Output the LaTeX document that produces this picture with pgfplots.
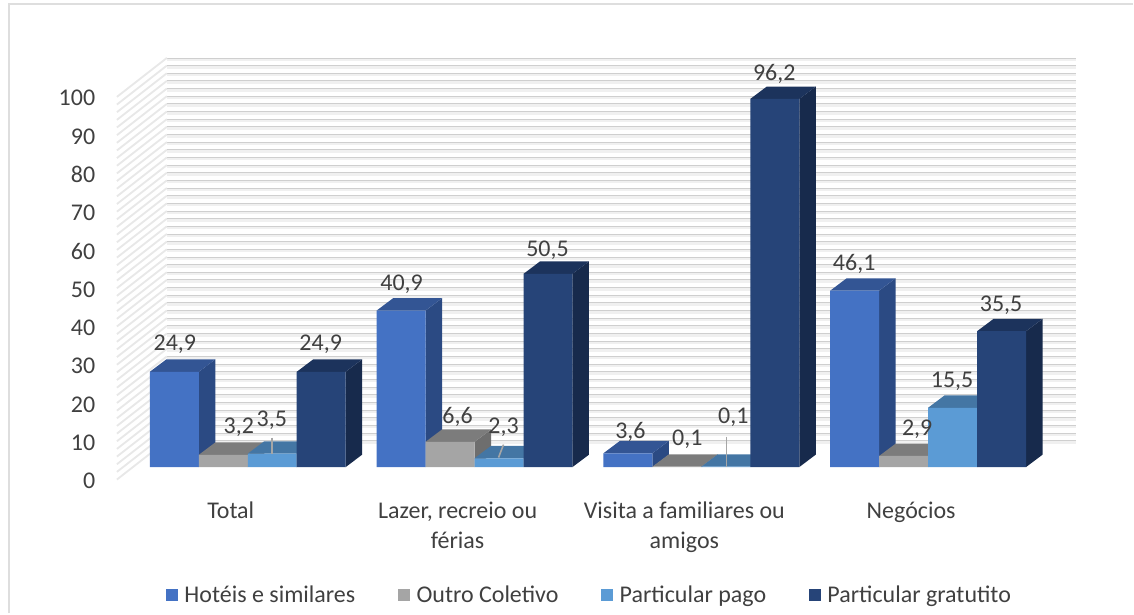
\documentclass[border=0pt]{standalone}
\usepackage{fontspec}
\setmainfont{Carlito}
\usepackage{pgfplots}
\usepackage{pgfplotstable}
\pgfplotsset{compat=1.18}

\definecolor{hot}{HTML}{4472C4}\definecolor{hott}{HTML}{335594}\definecolor{hots}{HTML}{2B4A83}
\definecolor{out}{HTML}{A5A5A5}\definecolor{outt}{HTML}{7C7C7C}\definecolor{outs}{HTML}{6E6E6E}
\definecolor{pag}{HTML}{5B9BD5}\definecolor{pagt}{HTML}{4476A4}\definecolor{pags}{HTML}{3D6A92}
\definecolor{gra}{HTML}{264478}\definecolor{grat}{HTML}{1C335C}\definecolor{gras}{HTML}{172A4C}
\definecolor{txt}{HTML}{404040}

\pgfplotstableread{
x hoteis outro pago gratuito
0 24.9 3.2 3.5 24.9
1 40.9 6.6 2.3 50.5
2 3.6 0.1 0.1 96.2
3 46.1 2.9 15.5 35.5
}\dados

% 1 px = 0.75 pt; eixo x: 227 px por categoria, eixo y: 3.83 px por unidade
\newcommand\caras[4]{%
  \pgfplotsforeachungrouped \r in {0,1,2,3}{%
    \pgfplotstablegetelem{\r}{#2}\of\dados
    \pgfmathsetmacro\va{\pgfplotsretval}
    \pgfmathsetmacro\vb{\va+3.24}
    \pgfmathsetmacro\xa{\r+#1}
    \pgfmathsetmacro\xb{\xa+0.2159}
    \pgfmathsetmacro\xc{\xa+0.0727}
    \pgfmathsetmacro\xd{\xb+0.0727}
    \addplot[fill=#4,draw=none,forget plot] coordinates {(\xb,0)(\xd,3.24)(\xd,\vb)(\xb,\va)} --cycle;
    \addplot[fill=#3,draw=none,forget plot] coordinates {(\xa,\va)(\xb,\va)(\xd,\vb)(\xc,\vb)} --cycle;
  }%
}
\newcommand\rot[3]{\node[lab] at (axis cs:{(#1-248)/227},{(467.5-#2)/3.83}) {#3};}
\newcommand\guia[4]{\addplot[color=black!35,line width=1.2pt,forget plot] coordinates {({(#1-248)/227},{(467.5-#2)/3.83})({(#3-248)/227},{(467.5-#4)/3.83})};}
\pgfplotsset{quad/.style={legend image code/.code={\fill[##1] (0pt,-4.5pt) rectangle (9pt,4.5pt);}}}

\begin{document}
\begin{tikzpicture}
\begin{axis}[
  scale only axis,
  width=850.5pt, height=460.5pt,
  xmin=-1.09251, xmax=3.9031,
  ymin=-38.25, ymax=122.06,
  clip=false,
  axis line style={draw=none},
  major tick length=0pt,
  tick style={draw=none},
  xtick={0,1,2,3},
  xticklabels={Total,{Lazer, recreio ou\\férias},{Visita a familiares ou\\amigos},Negócios},
  xticklabel style={align=center,anchor=north,xshift=-12.75pt,yshift=87pt,font=\fontsize{18}{22}\selectfont,text=txt},
  ytick={0,10,...,100},
  yticklabel style={anchor=east,xshift=75pt,yshift=-10.4pt,font=\fontsize{18}{18}\selectfont,text=txt},
  /pgf/number format/assume math mode=true,
  legend columns=4,
  legend cell align=left,
  legend style={draw=none,fill=none,at={(0.5205,0.0295)},anchor=center,
    font=\fontsize{18}{18}\selectfont,text=txt,
    /tikz/every even column/.append style={column sep=30pt},
    /tikz/every odd column/.append style={column sep=3pt}},
]
% moldura
\addplot[color=black!13,line width=1.6pt,forget plot] coordinates {(-1.0529,-38.25)(-1.0529,121)(3.9031,121)};
% paredes: grelha de 2 em 2
\pgfplotsinvokeforeach{0,2,...,100}{
  \addplot[color=black!6,line width=2.2pt,forget plot] coordinates {(-0.3568,#1+6.5)(3.652,#1+6.5)};
  \addplot[color=black!19,line width=0.6pt,forget plot] coordinates {(-0.3568,#1+6.92)(3.652,#1+6.92)};
  \addplot[color=black!9,line width=1.4pt,forget plot] coordinates {(-0.577,#1-3.26)(-0.3568,#1+6.92)};
}
\caras{-0.43176}{hoteis}{hott}{hots}
\addplot[ybar,bar width=36.75pt,bar shift=-55.125pt,fill=hot,draw=none,quad] table[x=x,y=hoteis] {\dados};
\addlegendentry{Hotéis e similares}
\caras{-0.21588}{outro}{outt}{outs}
\addplot[ybar,bar width=36.75pt,bar shift=-18.375pt,fill=out,draw=none,quad] table[x=x,y=outro] {\dados};
\addlegendentry{Outro Coletivo}
\caras{0}{pago}{pagt}{pags}
\addplot[ybar,bar width=36.75pt,bar shift=18.375pt,fill=pag,draw=none,quad] table[x=x,y=pago] {\dados};
\addlegendentry{Particular pago}
\caras{0.21588}{gratuito}{grat}{gras}
\addplot[ybar,bar width=36.75pt,bar shift=55.125pt,fill=gra,draw=none,quad] table[x=x,y=gratuito] {\dados};
\addlegendentry{Particular gratutito}
% linhas de chamada
\guia{272}{438}{272}{454}
\guia{504}{445}{499}{458}
\guia{727}{437}{727}{467}
% rotulos
\tikzset{lab/.style={font=\fontsize{18}{18}\selectfont,text=txt,inner sep=0pt}}
\rot{175}{345}{24,9}\rot{239}{428}{3,2}\rot{272}{421}{3,5}\rot{321}{345}{24,9}
\rot{402}{285}{40,9}\rot{458}{417}{6,6}\rot{504}{428}{2,3}\rot{548}{250}{50,5}
\rot{631}{432}{3,6}\rot{688}{440}{0,1}\rot{734}{418}{0,1}\rot{775}{74}{96,2}
\rot{855}{264}{46,1}\rot{918}{430}{2,9}\rot{953}{382}{15,5}\rot{1002}{306}{35,5}
\end{axis}
\end{tikzpicture}
\end{document}
